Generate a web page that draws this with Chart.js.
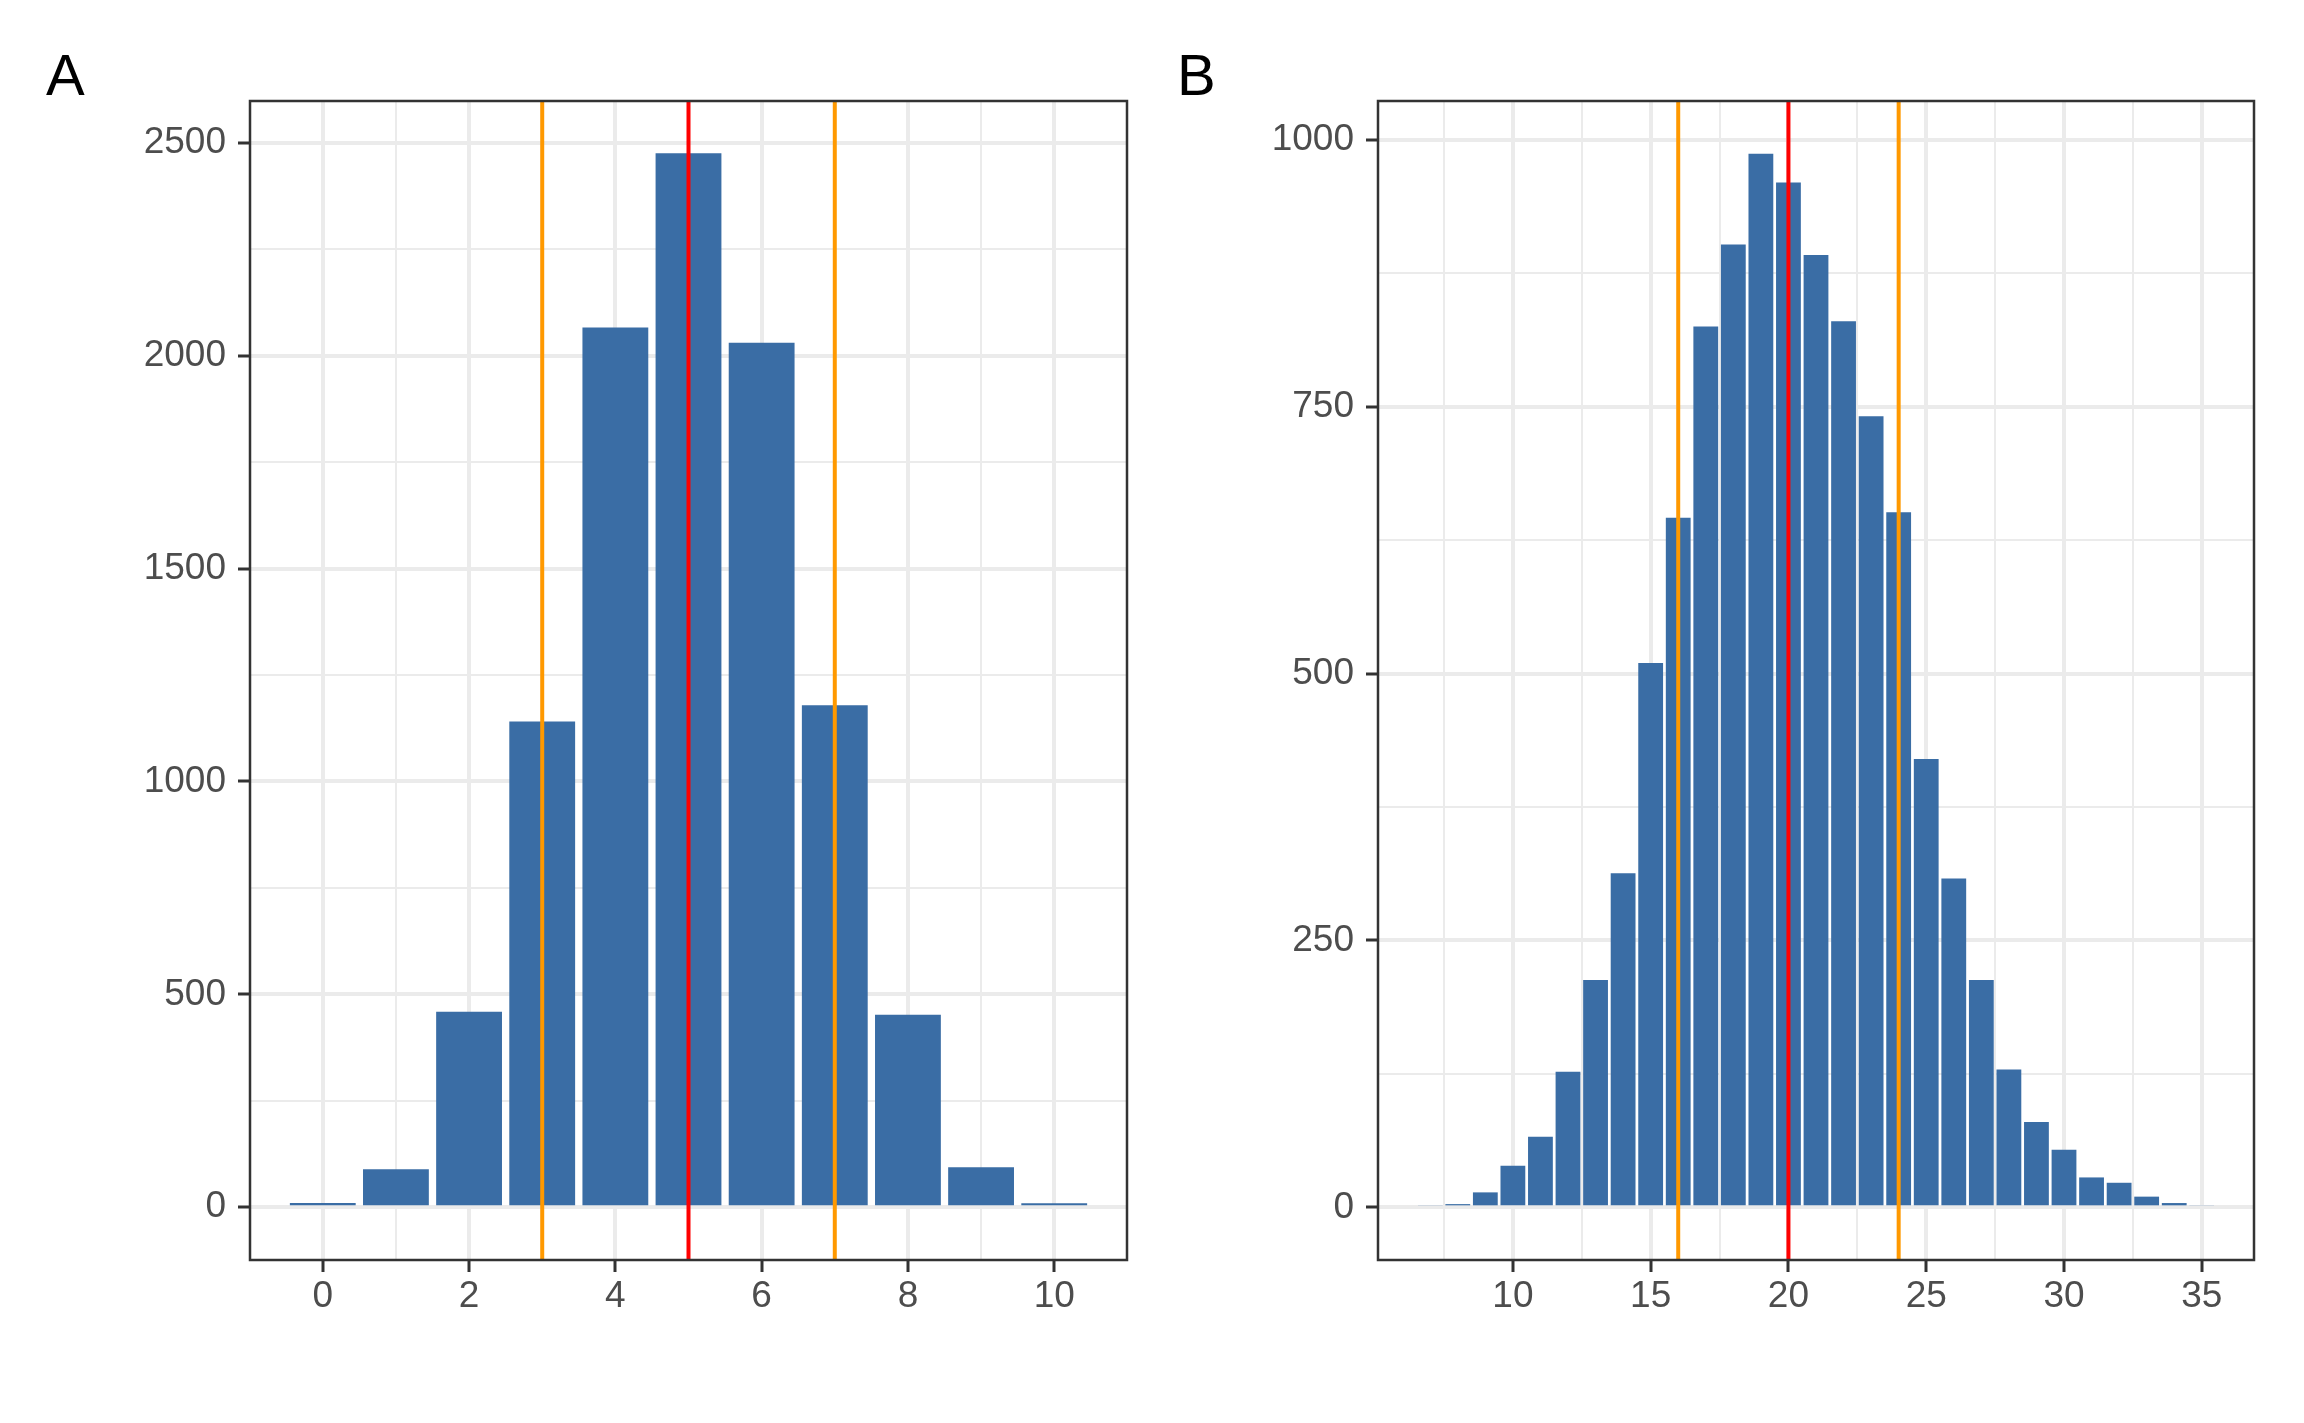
<!DOCTYPE html>
<html>
<head>
<meta charset="utf-8">
<script src="https://cdn.jsdelivr.net/npm/chart.js@4.4.0/dist/chart.umd.min.js"></script>
<style>
  body { margin: 0; background: #fff; width: 2304px; height: 1423px; position: relative; overflow: hidden; font-family: "Liberation Sans", Arial, sans-serif; }
  .tag { position: absolute; font-size: 58px; line-height: 58px; color: #000; }
  canvas { position: absolute; top: 0; }
</style>
</head>
<body>
<div class="tag" style="left:46px; top:46px">A</div>
<div class="tag" style="left:1177px; top:46px">B</div>
<canvas id="panelA" width="1152" height="1423" style="left:0"></canvas>
<canvas id="panelB" width="1152" height="1423" style="left:1152px"></canvas>

<script>
// Panel A: counts per value 0..10
const valuesA = [0, 1, 2, 3, 4, 5, 6, 7, 8, 9, 10];
const countsA = [10, 89, 459, 1141, 2066, 2475, 2030, 1179, 452, 94, 9];
const xTicksA = [0, 1, 2, 3, 4, 5, 6, 7, 8, 9, 10];
const yTicksA = [0, 250, 500, 750, 1000, 1250, 1500, 1750, 2000, 2250, 2500];
const refLinesA = [3, 5, 7];

// Panel B: counts per value 7..35
const valuesB = [7, 8, 9, 10, 11, 12, 13, 14, 15, 16, 17, 18, 19, 20, 21, 22, 23, 24, 25, 26, 27, 28, 29, 30, 31, 32, 33, 34, 35];
const countsB = [2, 3, 14, 39, 66, 127, 213, 313, 510, 646, 825, 902, 987, 960, 892, 830, 741, 651, 420, 308, 213, 129, 80, 54, 28, 23, 10, 4, 2];
const xTicksB = [7.5, 10, 12.5, 15, 17.5, 20, 22.5, 25, 27.5, 30, 32.5, 35];
const yTicksB = [0, 125, 250, 375, 500, 625, 750, 875, 1000];
const refLinesB = [16, 20, 24];

const refColors = ['#FF9900', '#FF0000', '#FF9900'];

const BAR = '#3A6DA5';
const GRID = '#EBEBEB';
const INK = '#333333';
const LABEL = '#4D4D4D';

// reference lines + panel border, drawn over the bars
const panelFrame = {
    id: 'panelFrame',
    afterDatasetsDraw(chart, args, opts) {
        const ctx = chart.ctx;
        const a = chart.chartArea;
        const x = chart.scales.x;
        ctx.save();
        ctx.beginPath();
        ctx.rect(a.left, a.top, a.right - a.left, a.bottom - a.top);
        ctx.clip();
        opts.lines.forEach((v, i) => {
            const px = x.getPixelForValue(v);
            ctx.strokeStyle = refColors[i];
            ctx.lineWidth = 4;
            ctx.beginPath();
            ctx.moveTo(px, a.top);
            ctx.lineTo(px, a.bottom);
            ctx.stroke();
        });
        ctx.restore();

        ctx.save();
        ctx.strokeStyle = INK;
        ctx.lineWidth = 2.5;
        ctx.strokeRect(a.left, a.top, a.right - a.left, a.bottom - a.top);
        ctx.restore();
    }
};

function makePanel(id, xs, ys, p) {
    const isMajorX = v => p.xMajor.includes(v);
    const isMajorY = v => p.yMajor.includes(v);

    return new Chart(document.getElementById(id), {
        type: 'bar',
        data: {
            datasets: [{
                data: xs.map((v, i) => ({ x: v, y: ys[i] })),
                backgroundColor: BAR,
                borderWidth: 0,
                barPercentage: 0.9,
                categoryPercentage: 1.0
            }]
        },
        options: {
            responsive: false,
            animation: false,
            devicePixelRatio: 1,
            layout: { padding: { left: 0, top: 101, right: p.padRight, bottom: 0 } },
            plugins: {
                legend: { display: false },
                tooltip: { enabled: false },
                panelFrame: { lines: p.lines }
            },
            scales: {
                x: {
                    type: 'linear',
                    min: p.xMin,
                    max: p.xMax,
                    offset: false,
                    afterBuildTicks: s => { s.ticks = p.xTicks.map(v => ({ value: v })); },
                    afterFit: s => { s.height = 163; },
                    border: { display: false },
                    grid: {
                        offset: false,
                        color: GRID,
                        lineWidth: c => isMajorX(c.tick.value) ? 4 : 2,
                        tickColor: c => isMajorX(c.tick.value) ? INK : 'rgba(0,0,0,0)',
                        tickWidth: 3,
                        tickLength: 12
                    },
                    ticks: {
                        autoSkip: false,
                        maxRotation: 0,
                        padding: 3,
                        color: LABEL,
                        font: { family: 'Liberation Sans', size: 37 },
                        callback: v => isMajorX(v) ? String(v) : ''
                    }
                },
                y: {
                    type: 'linear',
                    min: p.yMin,
                    max: p.yMax,
                    afterBuildTicks: s => { s.ticks = p.yTicks.map(v => ({ value: v })); },
                    afterFit: s => { s.width = p.yWidth; },
                    border: { display: false },
                    grid: {
                        color: GRID,
                        lineWidth: c => isMajorY(c.tick.value) ? 4 : 2,
                        tickColor: c => isMajorY(c.tick.value) ? INK : 'rgba(0,0,0,0)',
                        tickWidth: 3,
                        tickLength: 12
                    },
                    ticks: {
                        autoSkip: false,
                        padding: 12,
                        color: LABEL,
                        font: { family: 'Liberation Sans', size: 37 },
                        callback: v => isMajorY(v) ? String(v) : ''
                    }
                }
            }
        },
        plugins: [panelFrame]
    });
}

makePanel('panelA', valuesA, countsA, {
    xMin: -0.995, xMax: 10.995, yMin: -124, yMax: 2598,
    xTicks: xTicksA, yTicks: yTicksA,
    xMajor: [0, 2, 4, 6, 8, 10], yMajor: [0, 500, 1000, 1500, 2000, 2500],
    lines: refLinesA, yWidth: 250, padRight: 25
});

makePanel('panelB', valuesB, countsB, {
    xMin: 5.105, xMax: 36.895, yMin: -49.35, yMax: 1036.35,
    xTicks: xTicksB, yTicks: yTicksB,
    xMajor: [10, 15, 20, 25, 30, 35], yMajor: [0, 250, 500, 750, 1000],
    lines: refLinesB, yWidth: 226, padRight: 50
});
</script>
</body>
</html>
